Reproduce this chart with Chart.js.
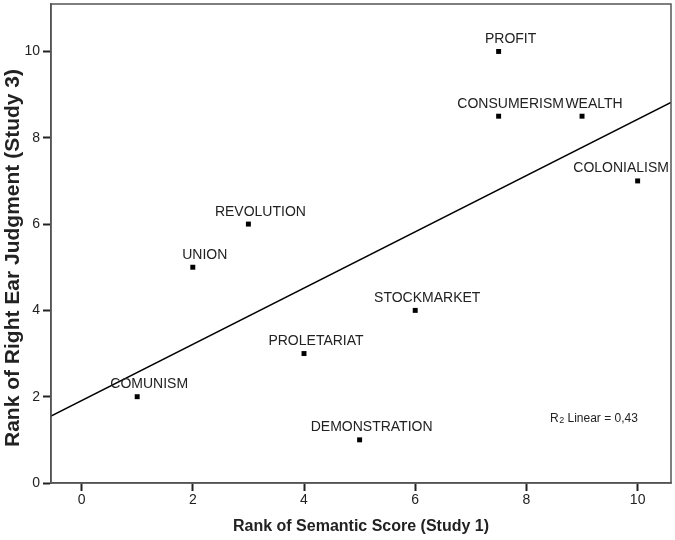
<!DOCTYPE html>
<html>
<head>
<meta charset="utf-8">
<script src="https://cdn.jsdelivr.net/npm/chart.js@4/dist/chart.umd.min.js"></script>
<style>
  html, body { margin: 0; padding: 0; background: #fff; }
  #wrap { width: 675px; height: 540px; }
</style>
</head>
<body>
<div id="wrap"><canvas id="chart" width="675" height="540"></canvas></div>
<script>
"use strict";

// words, semantic-score rank (x) and right-ear rank (y)
const words = ["COMUNISM", "UNION", "REVOLUTION", "PROLETARIAT", "DEMONSTRATION",
  "STOCKMARKET", "PROFIT", "CONSUMERISM", "WEALTH", "COLONIALISM"];
const semanticRank = [1, 2, 3, 4, 5, 6, 7.5, 7.5, 9, 10];
const rightEarRank = [2, 5, 6, 3, 1, 4, 10, 8.5, 8.5, 7];

// fit line ends
const fitX = [-0.55, 10.6];
const fitY = [1.55, 8.82];

const xTicks = [0, 2, 4, 6, 8, 10];
const yTicks = [0, 2, 4, 6, 8, 10];
const rSquared = "0,43";

const FONT = "'Liberation Sans', Arial, Helvetica, sans-serif";
const INK = "#222";

const points = words.map((w, i) => ({ x: semanticRank[i], y: rightEarRank[i], label: w }));
const fit = fitX.map((x, i) => ({ x, y: fitY[i] }));

// frame, word labels, R2 note and the y title
const decor = {
  id: "decor",
  afterDatasetsDraw(chart) {
    const { ctx, chartArea: a } = chart;
    ctx.save();
    ctx.fillStyle = INK;
    ctx.font = `14px ${FONT}`;
    ctx.textBaseline = "alphabetic";
    ctx.textAlign = "left";
    chart.getDatasetMeta(0).data.forEach((el, i) => {
      const text = points[i].label;
      const w = ctx.measureText(text).width;
      let left = el.x + 12 - w / 2;
      if (left + w > a.right - 2) left = a.right - 2 - w;
      ctx.fillText(text, left, el.y - 8.5);
    });

    // R2 Linear note
    const nx = 550, ny = 422;
    ctx.font = `12px ${FONT}`;
    ctx.fillText("R", nx, ny);
    let cx = nx + ctx.measureText("R").width;
    ctx.font = `9px ${FONT}`;
    ctx.fillText("2", cx + 0.5, ny + 1);
    cx += ctx.measureText("2").width + 0.5;
    ctx.font = `12px ${FONT}`;
    ctx.fillText(" Linear = " + rSquared, cx, ny);

    // plot frame
    ctx.strokeStyle = "#555";
    ctx.lineWidth = 1.5;
    ctx.strokeRect(a.left, a.top, a.right - a.left, a.bottom - a.top);

    // y axis title
    ctx.translate(13, 258);
    ctx.rotate(-Math.PI / 2);
    ctx.textAlign = "center";
    ctx.textBaseline = "middle";
    ctx.font = `bold 21px ${FONT}`;
    ctx.fillText("Rank of Right Ear Judgment (Study 3)", 0, 0);
    ctx.restore();
  },
};

new Chart(document.getElementById("chart"), {
  type: "scatter",
  data: {
    datasets: [
      {
        label: "words",
        data: points,
        pointStyle: "rect",
        pointRadius: 3.5,
        backgroundColor: "#000",
        borderWidth: 0,
      },
      {
        type: "line",
        label: "fit",
        data: fit,
        borderColor: "#000",
        borderWidth: 1.5,
        pointRadius: 0,
        fill: false,
        tension: 0,
      },
    ],
  },
  options: {
    responsive: false,
    animation: false,
    devicePixelRatio: 1,
    layout: { padding: { top: 4, right: 3, left: 0, bottom: 0 } },
    plugins: { legend: { display: false }, tooltip: { enabled: false } },
    scales: {
      x: {
        type: "linear",
        min: fitX[0],
        max: fitX[1],
        afterFit: (s) => { s.height = 57; s.paddingLeft = 0; s.paddingRight = 0; },
        afterBuildTicks: (s) => { s.ticks = xTicks.map((v) => ({ value: v })); },
        ticks: { color: INK, font: { family: FONT, size: 14 }, padding: 1 },
        grid: { drawOnChartArea: false, drawTicks: true, tickLength: 8, tickColor: "#222", tickWidth: 2 },
        border: { display: true, color: "#555", width: 1.5 },
        title: {
          display: true,
          text: "Rank of Semantic Score (Study 1)",
          color: INK,
          font: { family: FONT, size: 16, weight: "bold" },
          padding: { top: 0, bottom: 4 },
        },
      },
      y: {
        type: "linear",
        min: 0,
        max: 11.1,
        afterFit: (s) => { s.width = 51; s.paddingTop = 0; s.paddingBottom = 0; },
        afterBuildTicks: (s) => { s.ticks = yTicks.map((v) => ({ value: v })); },
        ticks: { color: INK, font: { family: FONT, size: 14 }, padding: 3 },
        grid: { drawOnChartArea: false, drawTicks: true, tickLength: 8, tickColor: "#222", tickWidth: 2 },
        border: { display: true, color: "#555", width: 1.5 },
      },
    },
  },
  plugins: [decor],
});
</script>
</body>
</html>
